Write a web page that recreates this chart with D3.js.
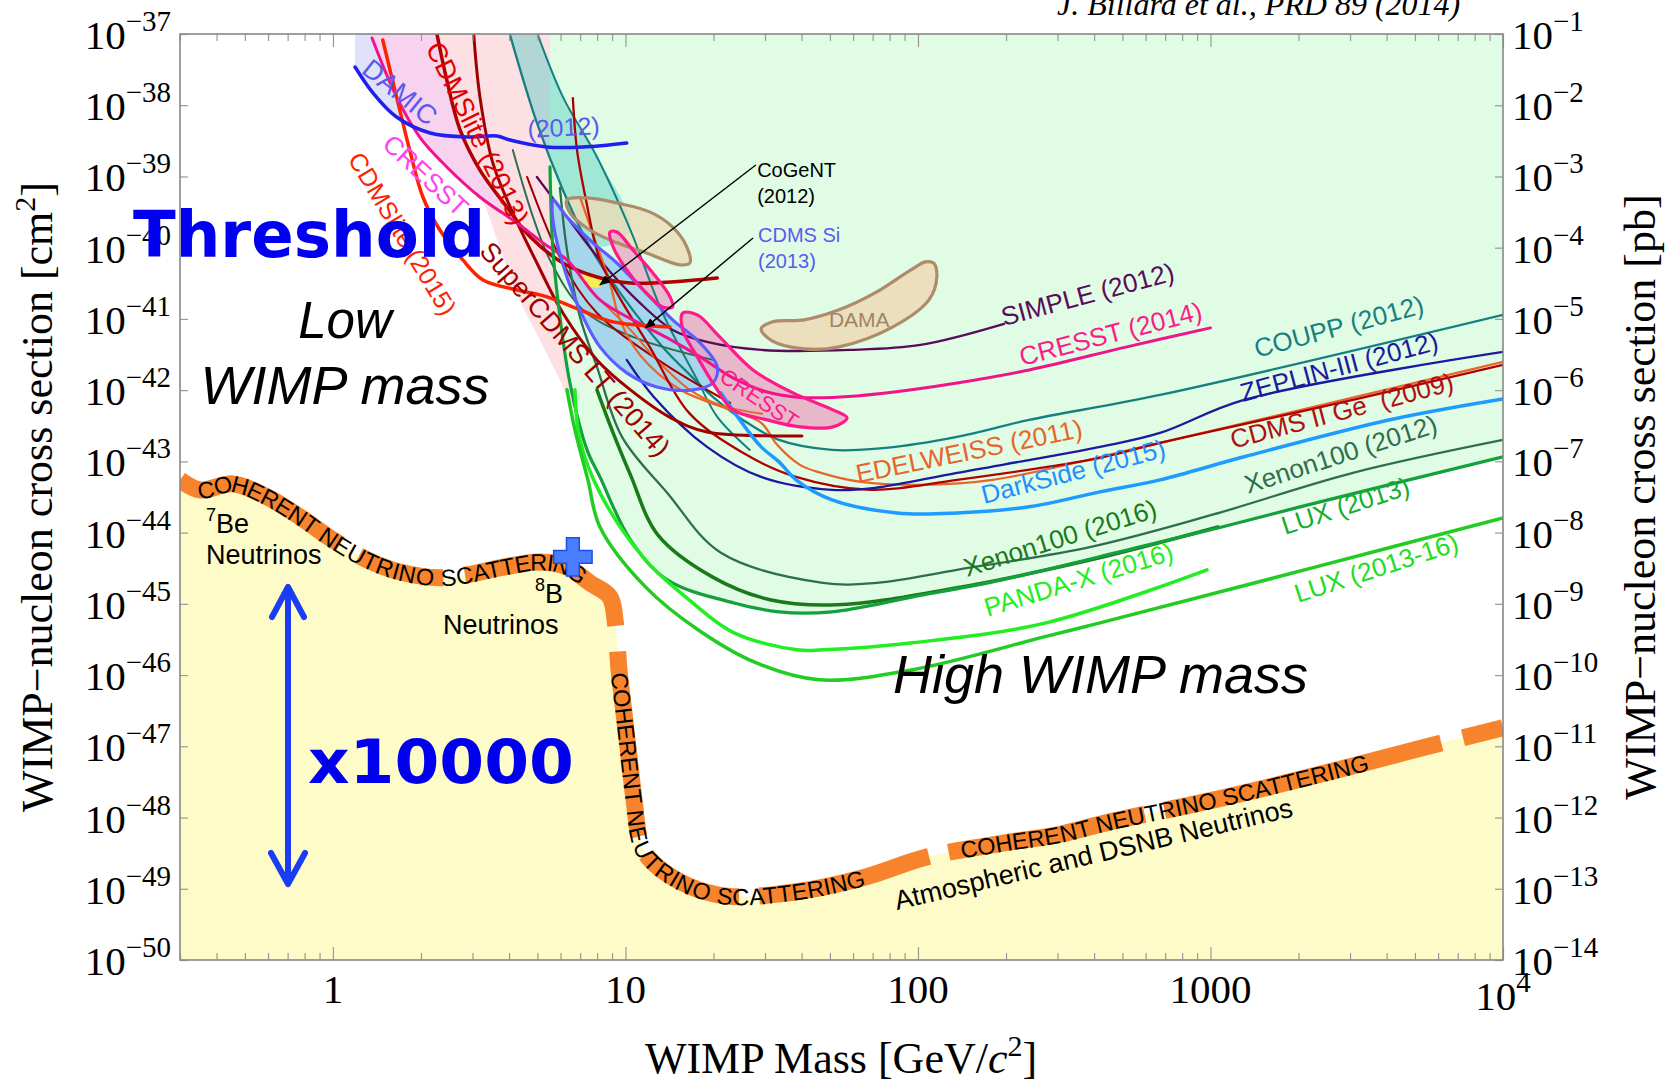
<!DOCTYPE html>
<html>
<head>
<meta charset="utf-8">
<script src="https://cdn.jsdelivr.net/npm/d3@7"></script>
<style>
  body { margin: 0; background: #fff; }
  svg { display: block; }
</style>
</head>
<body>
<div id="chart"></div>
<script>
// ---- data: [WIMP mass (GeV), cross section (cm^2)] ----
const neutrinoFloor = [
  [0.30, 5.5e-44], [0.351, 3.98e-44], [0.455, 4.83e-44], [0.595, 3.18e-44], [0.771, 1.66e-44],
  [1.0, 7.9e-45], [1.31, 4.15e-45], [1.69, 2.81e-45], [2.32, 2.32e-45], [2.87, 2.55e-45],
  [3.72, 3.2e-45], [5.10, 3.88e-45], [6.31, 3.3e-45], [7.56, 1.97e-45], [8.85, 1.25e-45],
  [9.21, 5.96e-46], [9.35, 3.13e-46], [9.50, 1.22e-46], [9.95, 2.35e-47], [10.7, 1.77e-48],
  [11.2, 4.88e-49], [12.0, 2.72e-49], [15.4, 1.25e-49], [20.6, 8.24e-50], [25.8, 7.73e-50],
  [33.8, 8.5e-50], [46.2, 1.03e-49], [66.4, 1.47e-49], [108, 2.81e-49], [200, 4.43e-49],
  [301, 5.73e-49], [453, 8.7e-49], [1028, 1.77e-48], [2333, 3.98e-48], [5290, 9.5e-48], [10000, 1.82e-47]
];

const damic = [[1.19, 3.44e-38], [1.37, 1.49e-38], [1.65, 6.84e-39], [2.15, 4.08e-39], [2.94, 3.58e-39],
  [3.64, 3.70e-39], [4.03, 3.25e-39], [5.39, 2.59e-39], [7.16, 2.59e-39], [10.1, 2.95e-39]];
const cresst = [[1.36, 8.8e-38], [1.65, 1.31e-38], [1.98, 3.58e-39], [2.45, 1.36e-39], [3.18, 5.15e-40],
  [4.26, 2.22e-40], [5.22, 1.17e-40], [6.31, 6.73e-41], [8.18, 1.85e-41], [10.6, 9.68e-42],
  [13.9, 5.41e-42], [18.0, 2.93e-42], [23.3, 1.49e-42], [30.5, 9.44e-43], [39.5, 7.91e-43],
  [51.2, 7.91e-43], [77.7, 9.14e-43], [136, 1.26e-42], [240, 1.92e-42], [518, 4.05e-42], [1000, 7.48e-42]];
const cdmslite2015 = [[1.48, 8.24e-38], [1.65, 1.31e-38], [1.83, 2.35e-39], [2.03, 5.15e-40], [2.32, 1.77e-40],
  [2.78, 6.73e-41], [3.26, 3.52e-41], [4.26, 2.55e-41], [5.39, 2.04e-41], [6.99, 1.34e-41],
  [9.07, 9.08e-42], [14.2, 7.73e-42]];
const cdmslite2013 = [[2.27, 9.7e-38], [2.45, 2.26e-38], [2.72, 4.5e-39], [3.18, 1.23e-39], [3.93, 3.73e-40],
  [4.72, 1.42e-40], [6.11, 6.1e-41], [7.99, 3.88e-41], [10.4, 3.2e-41], [20.6, 3.76e-41]];
const superCdms = [[3.03, 9.7e-38], [3.18, 1.31e-38], [3.52, 1.55e-39], [4.12, 3.08e-40], [4.98, 6.1e-41],
  [6.11, 1.21e-41], [7.99, 2.66e-42], [10.4, 1.01e-42], [14.3, 4.08e-43], [19.0, 2.59e-43], [40.1, 2.28e-43]];
const cdmsGe = [[6.61, 1.26e-38], [6.83, 2.35e-39], [7.33, 4.68e-40], [8.18, 6.73e-41], [9.65, 1.85e-41],
  [12.1, 4.05e-42], [16.5, 4.8e-43], [25.2, 1.32e-43], [38.3, 6.05e-44], [69.1, 3.98e-44], [136, 5.5e-44],
  [419, 1.12e-43], [672, 1.82e-43], [3070, 7.3e-43], [10000, 2.26e-42]];
const edelweiss = [[6.99, 5.15e-40], [7.86, 1.29e-40], [8.85, 3.2e-41], [9.58, 9.68e-42], [11.2, 3.13e-42],
  [15.4, 1.01e-42], [22.8, 5.28e-43], [29.1, 3.47e-43], [33.0, 1.71e-43], [39.5, 8.93e-44], [46.6, 6.9e-44],
  [63.9, 5.15e-44], [102, 4.68e-44], [180, 5.5e-44], [672, 1.82e-43], [10000, 2.49e-42]];
const edelweissLow = [[8.18, 1.85e-41], [10.4, 7.01e-42], [12.8, 2.66e-42], [16.6, 1.01e-42], [21.0, 6.21e-43], [29.3, 4.65e-43]];
const zeplin = [[10.1, 2.66e-42], [12.5, 8.04e-43], [19.0, 1.6e-43], [29.1, 6.05e-44], [50.8, 3.98e-44],
  [71.3, 4.25e-44], [136, 6.9e-44], [419, 1.6e-43], [672, 2.51e-43], [1302, 7.3e-43], [10000, 3.44e-42]];
const coupp = [[4.03, 9.7e-38], [4.98, 5.64e-39], [6.11, 6.47e-40], [7.56, 1.03e-40], [9.81, 2.04e-41],
  [13.4, 4.05e-42], [16.6, 1.64e-42], [19.9, 8.04e-43], [25.2, 3.82e-43], [33.5, 2.0e-43], [50.8, 1.45e-43],
  [77.7, 1.55e-43], [136, 2.21e-43], [240, 3.82e-43], [672, 8.57e-43], [10000, 1.14e-41]];
const couppEdge = [[5.02, 9.7e-38], [6.11, 1.31e-38], [7.99, 1.88e-39], [10.4, 1.77e-40], [13.4, 1.21e-41],
  [17.6, 1.39e-42], [20.6, 4.22e-43], [26.6, 1.45e-43]];
const simple = [[4.98, 9.84e-40], [6.31, 2.7e-40], [8.18, 6.73e-41], [11.2, 1.68e-41], [14.5, 7.01e-42],
  [19.0, 4.75e-42], [29.1, 3.67e-42], [58.5, 3.67e-42], [102, 4.31e-42], [197, 8.51e-42]];
const darkside = [[21.2, 9.14e-43], [24.6, 3.82e-43], [29.1, 1.6e-43], [33.5, 9.84e-44], [38.3, 5.5e-44],
  [50.8, 2.88e-44], [84.8, 1.89e-44], [136, 1.89e-44], [240, 2.3e-44], [419, 3.73e-44], [672, 5.5e-44],
  [1302, 1.16e-43], [4076, 3.82e-43], [10000, 7.53e-43]];
const xenon2012 = [[5.97, 6.9e-40], [6.31, 9.3e-41], [6.99, 1.07e-41], [7.99, 2.12e-42], [9.73, 2.21e-43],
  [13.9, 3.61e-44], [21.2, 5.2e-45], [47.3, 1.97e-45], [72.4, 1.97e-45], [136, 3.0e-45], [390, 6.31e-45],
  [1010, 1.77e-44], [3070, 6.9e-44], [10000, 2.0e-43]];
const xenon2016 = [[7.99, 1.01e-42], [8.99, 2.77e-43], [10.4, 6.47e-44], [12.9, 9.3e-45], [19.8, 2.39e-45],
  [31.2, 1.14e-45], [52.8, 9.68e-46], [136, 1.68e-45], [390, 4.15e-45], [1061, 1.2e-44]];
const lux2013 = [[5.52, 1.36e-39], [5.65, 9.3e-41], [5.97, 1.07e-41], [6.46, 1.26e-42], [7.39, 1.45e-43],
  [8.18, 6.05e-44], [10.4, 7.91e-45], [13.9, 2.17e-45], [23.5, 1.03e-45], [33.5, 7.73e-46], [50.8, 7.73e-46],
  [96.1, 1.25e-45], [194, 2.17e-45], [556, 6.11e-45], [1069, 1.17e-44], [2023, 2.3e-44], [10000, 1.16e-43]];
const pandax = [[6.72, 1.01e-42], [6.99, 2.0e-43], [8.18, 3.61e-44], [11.7, 4.15e-45], [16.5, 1.14e-45],
  [23.5, 3.92e-46], [38.6, 2.26e-46], [47.3, 2.26e-46], [96.1, 2.84e-46], [274, 5.41e-46], [973, 3.0e-45]];
const lux2016 = [[6.31, 1.01e-42], [6.72, 2.77e-43], [7.44, 5.5e-44], [8.18, 1.2e-44], [11.7, 1.73e-45],
  [17.7, 4.32e-46], [27.9, 1.49e-46], [45.9, 8.57e-47], [96.1, 1.19e-46], [274, 3.49e-46], [419, 5.41e-46],
  [2294, 3.3e-45], [10000, 1.61e-44]];
const xenon10 = [[4.12, 2.35e-39], [4.83, 2.7e-40], [5.52, 6.73e-41], [7.16, 1.34e-41], [10.6, 5.59e-42], [19.9, 2.66e-42]];
const cdmsLowExtra = [[4.61, 9.84e-40], [6.11, 6.1e-41], [7.99, 1.21e-41], [13.4, 2.41e-42], [22.8, 6.62e-43]];

// lower edge of the pink low-mass exclusion below the CRESST curve
const pinkLowerEdge = [[3.64, 1.29e-40], [4.19, 2.55e-41], [5.10, 5.07e-42], [5.97, 1.39e-42], [6.72, 5.28e-43], [8.18, 3.82e-43]];

// signal regions (closed contours)
const damaUpper = [[6.31, 4.68e-40], [7.39, 4.99e-40], [9.35, 4.25e-40], [12.1, 3.18e-40], [14.5, 1.95e-40],
  [16.2, 1.03e-40], [16.6, 6.1e-41], [15.4, 5.73e-41], [11.8, 8.43e-41], [9.35, 1.17e-40], [7.56, 1.77e-40], [6.46, 3.08e-40]];
const damaLower = [[29.1, 7.24e-42], [31.7, 9.08e-42], [40.8, 9.68e-42], [53.7, 1.34e-41], [71.3, 2.32e-41],
  [94.6, 4.88e-41], [106, 6.31e-41], [113, 6.1e-41], [116, 3.88e-41], [109, 1.85e-41], [82.1, 7.73e-42],
  [53.7, 4.05e-42], [40.8, 3.79e-42], [31.7, 4.91e-42]];
const cresstUpper = [[8.85, 1.66e-40], [9.35, 1.66e-40], [10.6, 9.3e-41], [12.4, 4.43e-41], [14.2, 2.04e-41],
  [14.5, 1.47e-41], [13.4, 1.47e-41], [11.5, 2.55e-41], [10.1, 4.88e-41], [9.07, 1.03e-40]];
const cresstLower = [[15.7, 1.21e-41], [17.6, 1.14e-41], [21.0, 5.59e-42], [27.3, 1.92e-42], [37.4, 9.14e-43],
  [51.2, 5.28e-43], [57.2, 4.08e-43], [51.2, 3.05e-43], [39.5, 3.05e-43], [30.5, 3.82e-43], [23.3, 5.28e-43],
  [20.6, 1.01e-42], [17.6, 2.93e-42], [15.7, 7.01e-42]];
const cdmsSi = [[5.65, 4.68e-40], [6.31, 2.7e-40], [7.74, 1.17e-40], [9.35, 6.1e-41], [11.5, 2.55e-41],
  [14.5, 9.68e-42], [18.0, 4.6e-42], [20.6, 2.12e-42], [19.9, 1.26e-42], [17.0, 1.01e-42], [12.8, 1.11e-42],
  [10.1, 1.75e-42], [8.18, 4.05e-42], [7.16, 1.07e-41], [6.31, 3.88e-41], [5.74, 1.61e-40], [5.61, 3.73e-40]];
const cogent = [[6.99, 3.76e-41], [7.56, 4.43e-41], [8.38, 3.52e-41], [8.18, 2.81e-41], [7.44, 2.9e-41]];

const heliumMarker = [6.61, 4.57e-45];

// axes
const xMajor = [1, 10, 100, 1000, 10000];
const xLabels = ['1', '10', '100', '1000', '10'];
const leftExponents = [-37, -38, -39, -40, -41, -42, -43, -44, -45, -46, -47, -48, -49, -50];
const rightExponents = [-1, -2, -3, -4, -5, -6, -7, -8, -9, -10, -11, -12, -13, -14];

// ---- layout ----
const W = 1666, H = 1083;
const plot = { left: 180, right: 1503, top: 34, bottom: 960 };

const x = d3.scaleLog().domain([0.3, 1e4]).range([plot.left, plot.right]);
const y = d3.scaleLog().domain([1e-50, 1e-37]).range([plot.bottom, plot.top]);
const yPb = d3.scaleLog().domain([1e-14, 1e-1]).range([plot.bottom, plot.top]);
const TOP = y.domain()[1], BOTTOM = y.domain()[0], XMAX = x.domain()[1], XMIN = x.domain()[0];

const svg = d3.select('#chart').append('svg').attr('width', W).attr('height', H);
svg.append('rect').attr('width', W).attr('height', H).attr('fill', '#fff');

const defs = svg.append('defs');
defs.append('clipPath').attr('id', 'clip').append('rect')
  .attr('x', plot.left).attr('y', plot.top)
  .attr('width', plot.right - plot.left).attr('height', plot.bottom - plot.top);
defs.append('marker').attr('id', 'arrow').attr('viewBox', '0 0 10 8')
  .attr('refX', 9).attr('refY', 4).attr('markerWidth', 11).attr('markerHeight', 9)
  .attr('markerUnits', 'userSpaceOnUse').attr('orient', 'auto')
  .append('path').attr('d', 'M0,0L10,4L0,8Z').attr('fill', '#000');

const line = d3.line().x(d => x(d[0])).y(d => y(d[1])).curve(d3.curveCatmullRom.alpha(0.5));
const loop = d3.line().x(d => x(d[0])).y(d => y(d[1])).curve(d3.curveCatmullRomClosed.alpha(0.5));
const areaPath = (pts, closing) =>
  line(pts) + closing.map(p => `L${x(p[0])},${y(p[1])}`).join('') + 'Z';

const g = svg.append('g').attr('clip-path', 'url(#clip)');

// background exclusion / neutrino regions
g.append('path').attr('d', areaPath(damic, [[damic[damic.length - 1][0], TOP], [damic[0][0], TOP]]))
  .attr('fill', '#dfe2f9');
g.append('path').attr('d', areaPath(cresst.slice(0, 5).concat(pinkLowerEdge), [[8.18, TOP], [cresst[0][0], TOP]]))
  .attr('fill', '#fde0e3');
g.append('path').attr('d', areaPath(cresst.slice(0, 8).concat(cdmslite2013.slice(0, 7).reverse()),
  [[cdmslite2013[0][0], TOP], [cresst[0][0], TOP]]))
  .attr('fill', '#f8d3ef');
g.append('path').attr('d', areaPath(lux2013, [[XMAX, TOP], [lux2013[0][0], TOP]]))
  .attr('fill', '#e0fce4');
g.append('path').attr('d', areaPath(coupp.slice(0, 4).concat(couppEdge.slice(0, 4).reverse()),
  [[couppEdge[0][0], TOP], [coupp[0][0], TOP]]))
  .attr('fill', '#40c8c0').attr('opacity', 0.4);
g.append('path').attr('d', areaPath(neutrinoFloor, [[XMAX, BOTTOM], [XMIN, BOTTOM]]))
  .attr('fill', '#fdfbc8');

// signal regions
const regions = [
  { pts: cdmsSi, fill: '#a6d6ec', stroke: '#5d5dff', op: 1 },
  { pts: damaUpper, fill: '#ecdcb8', stroke: '#ad8b6b', op: 0.8 },
  { pts: damaLower, fill: '#ecdcb8', stroke: '#ad8b6b', op: 0.9 },
  { pts: cresstUpper, fill: '#e9a5c3', stroke: '#ff1a8c', op: 0.75 },
  { pts: cresstLower, fill: '#e9a5c3', stroke: '#ff1a8c', op: 0.8 },
  { pts: cogent, fill: '#f3ef55', stroke: 'none', op: 1 }
];
g.selectAll('path.region').data(regions).enter().append('path')
  .attr('class', 'region')
  .attr('d', d => loop(d.pts))
  .attr('fill', d => d.fill).attr('fill-opacity', d => d.op).attr('stroke', 'none');

// exclusion curves
const curves = [
  { pts: couppEdge, color: '#168080', w: 2 },
  { pts: coupp, color: '#168080', w: 2.3 },
  { pts: xenon10, color: '#2e6e4e', w: 2 },
  { pts: cdmsLowExtra, color: '#a00000', w: 2 },
  { pts: simple, color: '#5a0a5a', w: 2.3 },
  { pts: edelweiss, color: '#e8642a', w: 2.3 },
  { pts: edelweissLow, color: '#e8642a', w: 2 },
  { pts: cdmsGe, color: '#b00000', w: 2.3 },
  { pts: zeplin, color: '#1a1aa0', w: 2.3 },
  { pts: xenon2012, color: '#2e6e4e', w: 2.3 },
  { pts: superCdms, color: '#a00000', w: 3 },
  { pts: cdmslite2013, color: '#b00000', w: 3.5 },
  { pts: cresst, color: '#f0148c', w: 3 },
  { pts: cdmslite2015, color: '#ff2200', w: 3.5 },
  { pts: damic, color: '#1f1fee', w: 3.5 },
  { pts: darkside, color: '#1e9bff', w: 3.5 },
  { pts: xenon2016, color: '#1a7a1a', w: 3.5 },
  { pts: lux2013, color: '#14a03c', w: 3.2 },
  { pts: pandax, color: '#22ee22', w: 3.5 },
  { pts: lux2016, color: '#22cc22', w: 3.5 }
];
g.selectAll('path.curve').data(curves).enter().append('path')
  .attr('class', 'curve')
  .attr('d', d => line(d.pts))
  .attr('fill', 'none').attr('stroke', d => d.color).attr('stroke-width', d => d.w)
  .attr('stroke-linejoin', 'round').attr('stroke-linecap', 'round');

g.selectAll('path.outline').data(regions.filter(r => r.stroke !== 'none')).enter().append('path')
  .attr('class', 'outline')
  .attr('d', d => loop(d.pts))
  .attr('fill', 'none').attr('stroke', d => d.stroke).attr('stroke-width', 3.2);

// neutrino floor band
const floor = g.append('path').attr('id', 'floorPath')
  .attr('d', line(neutrinoFloor))
  .attr('fill', 'none').attr('stroke', '#f7842c').attr('stroke-width', 17)
  .attr('stroke-dasharray', '180,22,88,22,186,26,186,20,105,20,175,20,200,20,285,22,200');

function offsetNear(m, s) {
  const node = floor.node();
  const L = node.getTotalLength();
  let best = 0, bd = Infinity;
  for (let l = 0; l <= L; l += 1) {
    const p = node.getPointAtLength(l);
    const d = (p.x - x(m)) ** 2 + (p.y - y(s)) ** 2;
    if (d < bd) { bd = d; best = l; }
  }
  return best;
}
const floorText = [[0.345, 4.2e-44], [9.4, 1.1e-46], [140, 3.0e-49]];
floorText.forEach(a => {
  g.append('text')
    .attr('dy', '0.36em')
    .attr('font-family', 'Liberation Sans, Arial, sans-serif')
    .attr('font-size', 23.5)
    .attr('fill', '#000')
    .append('textPath')
    .attr('href', '#floorPath')
    .attr('startOffset', offsetNear(a[0], a[1]))
    .text('COHERENT NEUTRINO SCATTERING');
});

// blue cross marker
g.append('path')
  .attr('transform', `translate(${x(heliumMarker[0])},${y(heliumMarker[1])})`)
  .attr('d', d3.symbol(d3.symbolCross, 820)())
  .attr('fill', '#4a7dff').attr('stroke', '#1e4ee6').attr('stroke-width', 1.5);

// arrows to CoGeNT and CDMS Si
const pointers = [
  { from: [27.9, 1.45e-39], to: [8.18, 3.0e-41] },
  { from: [27.3, 1.37e-40], to: [11.7, 7.48e-42] }
];
g.selectAll('line.ptr').data(pointers).enter().append('line')
  .attr('x1', d => x(d.from[0])).attr('y1', d => y(d.from[1]))
  .attr('x2', d => x(d.to[0])).attr('y2', d => y(d.to[1]))
  .attr('stroke', '#000').attr('stroke-width', 1.4).attr('marker-end', 'url(#arrow)');

// ---- axes ----
const xMinor = [];
[0.1, 1, 10, 100, 1000].forEach(dec => {
  for (let k = 2; k <= 9; k++) { const v = k * dec; if (v > 0.3 && v < 1e4) xMinor.push(v); }
});
const tickStyle = sel => {
  sel.select('.domain').remove();
  sel.selectAll('line').attr('stroke', '#999').attr('stroke-width', 1.2);
};
svg.append('g').attr('transform', `translate(0,${plot.bottom})`)
  .call(d3.axisBottom(x).tickValues(xMajor).tickSize(-13).tickFormat('')).call(tickStyle);
svg.append('g').attr('transform', `translate(0,${plot.bottom})`)
  .call(d3.axisBottom(x).tickValues(xMinor).tickSize(-7).tickFormat('')).call(tickStyle);
svg.append('g').attr('transform', `translate(0,${plot.top})`)
  .call(d3.axisTop(x).tickValues(xMajor).tickSize(-13).tickFormat('')).call(tickStyle);
svg.append('g').attr('transform', `translate(0,${plot.top})`)
  .call(d3.axisTop(x).tickValues(xMinor).tickSize(-7).tickFormat('')).call(tickStyle);
svg.append('g').attr('transform', `translate(${plot.left},0)`)
  .call(d3.axisLeft(y).tickValues(leftExponents.map(e => Math.pow(10, e))).tickSize(-8).tickFormat('')).call(tickStyle);
svg.append('g').attr('transform', `translate(${plot.right},0)`)
  .call(d3.axisRight(yPb).tickValues(rightExponents.map(e => Math.pow(10, e))).tickSize(-8).tickFormat('')).call(tickStyle);

svg.append('rect')
  .attr('x', plot.left).attr('y', plot.top)
  .attr('width', plot.right - plot.left).attr('height', plot.bottom - plot.top)
  .attr('fill', 'none').attr('stroke', '#888').attr('stroke-width', 1.6);

const serif = 'Liberation Serif, Times New Roman, serif';
const sans = 'Liberation Sans, Arial, Helvetica, sans-serif';

function powerLabel(xPos, yPos, exp, anchor) {
  const t = svg.append('text').attr('x', xPos).attr('y', yPos)
    .attr('text-anchor', anchor).attr('font-family', serif).attr('font-size', 41).attr('fill', '#000');
  t.append('tspan').text('10');
  t.append('tspan').attr('dy', -18).attr('font-size', 29).text(String(exp).replace('-', '\u2212'));
}
leftExponents.forEach(e => powerLabel(plot.left - 9, y(Math.pow(10, e)) + 15, e, 'end'));
rightExponents.forEach(e => powerLabel(plot.right + 9, yPb(Math.pow(10, e)) + 15, e, 'start'));

xMajor.forEach((v, i) => {
  const t = svg.append('text').attr('x', x(v)).attr('y', v === 1e4 ? 1010 : 1003)
    .attr('text-anchor', 'middle').attr('font-family', serif).attr('font-size', 41).attr('fill', '#000');
  t.append('tspan').text(xLabels[i]);
  if (v === 1e4) t.append('tspan').attr('dy', -18).attr('font-size', 29).text('4');
});

// axis titles
const yTitle = (xPos, unit) => {
  const t = svg.append('text')
    .attr('transform', `translate(${xPos},${(plot.top + plot.bottom) / 2}) rotate(-90)`)
    .attr('text-anchor', 'middle').attr('font-family', serif).attr('font-size', 44).attr('fill', '#000');
  t.append('tspan').text('WIMP\u2212nucleon cross section [' + unit);
  if (unit === 'cm') {
    t.append('tspan').attr('dy', -17).attr('font-size', 30).text('2');
    t.append('tspan').attr('dy', 17).text(']');
  } else {
    t.append('tspan').text(']');
  }
};
yTitle(52, 'cm');
yTitle(1655, 'pb');

const xt = svg.append('text').attr('x', 841).attr('y', 1073).attr('text-anchor', 'middle')
  .attr('font-family', serif).attr('font-size', 44).attr('fill', '#000');
xt.append('tspan').text('WIMP Mass [GeV/');
xt.append('tspan').attr('font-style', 'italic').text('c');
xt.append('tspan').attr('dy', -17).attr('font-size', 30).text('2');
xt.append('tspan').attr('dy', 17).text(']');

svg.append('text').attr('x', 1057).attr('y', 15)
  .attr('font-family', serif).attr('font-style', 'italic').attr('font-size', 32).attr('fill', '#000')
  .text('J. Billard et al., PRD 89 (2014)');

// ---- curve labels (anchored in data coordinates) ----
const curveLabels = [
  { text: 'DAMIC', at: [1.24, 2.93e-38], angle: 39, color: '#5a5aee', size: 27 },
  { text: '(2012)', at: [4.64, 3.47e-39], angle: -3, color: '#5a5aee', size: 25 },
  { text: 'CRESST', at: [1.46, 2.68e-39], angle: 43, color: '#ff44ee', size: 26 },
  { text: 'CDMSlite (2015)', at: [1.12, 1.76e-39], angle: 59, color: '#ff2200', size: 25 },
  { text: 'CDMSlite (2013)', at: [2.07, 6.43e-38], angle: 64, color: '#e00000', size: 27 },
  { text: 'SuperCDMS LT (2014)', at: [3.14, 8.67e-41], angle: 49, color: '#a00000', size: 27 },
  { text: 'SIMPLE (2012)', at: [197, 7.97e-42], angle: -15, color: '#5a0a5a', size: 26 },
  { text: 'CRESST (2014)', at: [227, 2.19e-42], angle: -14.5, color: '#ff1a8c', size: 26 },
  { text: 'COUPP (2012)', at: [1442, 2.84e-42], angle: -15, color: '#168080', size: 26 },
  { text: 'ZEPLIN-III (2012)', at: [1292, 6.84e-43], angle: -15, color: '#1a1aa0', size: 26 },
  { text: 'CDMS II Ge  (2009)', at: [1194, 1.5e-43], angle: -14.8, color: '#b01010', size: 26 },
  { text: 'Xenon100 (2012)', at: [1343, 3.5e-44], angle: -18, color: '#2e6e4e', size: 26 },
  { text: 'LUX (2013)', at: [1797, 9.25e-45], angle: -18, color: '#10b030', size: 26 },
  { text: 'LUX (2013-16)', at: [1991, 1.03e-45], angle: -18, color: '#22dd22', size: 26 },
  { text: 'PANDA-X (2016)', at: [173, 6.57e-46], angle: -17, color: '#22ee22', size: 26 },
  { text: 'Xenon100 (2016)', at: [147, 2.39e-45], angle: -17.5, color: '#1a7a1a', size: 26 },
  { text: 'DarkSide (2015)', at: [168, 2.53e-44], angle: -14.5, color: '#1e90ff', size: 26 },
  { text: 'EDELWEISS (2011)', at: [62.4, 4.99e-44], angle: -11.5, color: '#e8642a', size: 26 },
  { text: 'CRESST', at: [20.7, 1.39e-42], angle: 34, color: '#ff1a8c', size: 22 },
  { text: 'DAMA', at: [49.6, 7.73e-42], angle: 0, color: '#a08468', size: 21 },
  { text: 'CoGeNT', at: [28.2, 9.84e-40], angle: 0, color: '#000', size: 20 },
  { text: '(2012)', at: [28.2, 4.25e-40], angle: 0, color: '#000', size: 20 },
  { text: 'CDMS Si', at: [28.4, 1.2e-40], angle: 0, color: '#5a5af0', size: 20 },
  { text: '(2013)', at: [28.4, 5.2e-41], angle: 0, color: '#5a5af0', size: 20 }
];
svg.append('g').selectAll('text').data(curveLabels).enter().append('text')
  .attr('transform', d => `translate(${x(d.at[0])},${y(d.at[1])}) rotate(${d.angle})`)
  .attr('font-family', sans).attr('font-size', d => d.size).attr('fill', d => d.color)
  .style('white-space', 'pre')
  .text(d => d.text);

// ---- free annotations ----
const ann = svg.append('g').attr('font-family', sans).attr('fill', '#000');
const be = ann.append('text').attr('x', 206).attr('y', 533).attr('font-size', 27);
be.append('tspan').attr('font-size', 18).attr('dy', -12).text('7');
be.append('tspan').attr('dy', 12).text('Be');
ann.append('text').attr('x', 206).attr('y', 564).attr('font-size', 27).text('Neutrinos');
const b8 = ann.append('text').attr('x', 535).attr('y', 603).attr('font-size', 27);
b8.append('tspan').attr('font-size', 18).attr('dy', -12).text('8');
b8.append('tspan').attr('dy', 12).text('B');
ann.append('text').attr('x', 443).attr('y', 634).attr('font-size', 27).text('Neutrinos');
ann.append('text').attr('transform', 'translate(897,910) rotate(-13.3)').attr('font-size', 27)
  .text('Atmospheric and DSNB Neutrinos');

ann.append('text').attr('x', 345).attr('y', 338).attr('text-anchor', 'middle')
  .attr('font-size', 51).attr('font-style', 'italic').text('Low');
ann.append('text').attr('x', 345).attr('y', 404).attr('text-anchor', 'middle')
  .attr('font-size', 54).attr('font-style', 'italic').text('WIMP mass');
ann.append('text').attr('x', 893).attr('y', 693)
  .attr('font-size', 54).attr('font-style', 'italic').text('High WIMP mass');

// blue double arrow
const blue = '#1a3cf5';
svg.append('line').attr('x1', 288).attr('y1', 588).attr('x2', 288).attr('y2', 884)
  .attr('stroke', blue).attr('stroke-width', 6);
svg.append('path').attr('d', 'M272,617L288,587L304,617 M271,853L288,884L305,853')
  .attr('fill', 'none').attr('stroke', blue).attr('stroke-width', 6)
  .attr('stroke-linecap', 'round').attr('stroke-linejoin', 'round');

svg.append('text').attr('x', 133).attr('y', 257)
  .attr('font-family', 'DejaVu Sans, Verdana, sans-serif').attr('font-weight', 'bold')
  .attr('font-size', 64).attr('fill', '#0000ee')
  .attr('textLength', 352).attr('lengthAdjust', 'spacingAndGlyphs')
  .text('Threshold');
svg.append('text').attr('x', 308).attr('y', 783)
  .attr('font-family', 'DejaVu Sans, Verdana, sans-serif').attr('font-weight', 'bold')
  .attr('font-size', 60).attr('fill', '#0000ee')
  .attr('textLength', 266).attr('lengthAdjust', 'spacingAndGlyphs')
  .text('x10000');
</script>
</body>
</html>
